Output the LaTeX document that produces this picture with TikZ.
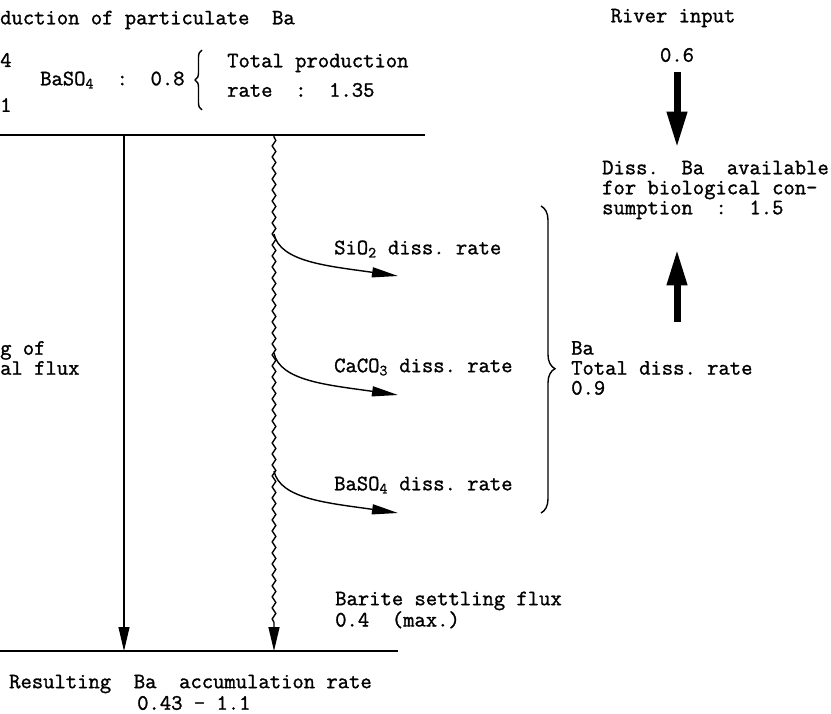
\documentclass[tikz,border=0pt]{standalone}
\usepackage{fontspec}
\setmainfont{Latin Modern Mono}[FakeBold=1.3]
\usetikzlibrary{arrows.meta,decorations.pathmorphing,decorations.pathreplacing}

\begin{document}
\begin{tikzpicture}[x=1pt,y=-1pt,
    lbl/.style={anchor=west,inner sep=0pt,align=left,
      font=\fontsize{22}{20}\selectfont},
    surface/.style={line width=1.8pt},
    fall/.style={line width=1.2pt,-{Triangle[length=24pt,width=11pt]}},
    wavy/.style={line width=1.4pt,-{Triangle[length=24pt,width=11pt]},
      decorate,decoration={snake,amplitude=1.8pt,segment length=11pt,
      pre length=2pt,post length=24pt}},
    dissarrow/.style={line width=1.4pt,-{Triangle[length=26pt,width=10pt]}},
    bigarrow/.style={line width=7pt,-{Triangle[length=36pt,width=19pt]}},
    bracket/.style={line width=1.4pt,decorate,decoration={brace,amplitude=#1}}]
  \useasboundingbox (0,0) rectangle (831,714);
  % production at the surface
  \node [lbl] (prod) at (0,20) {duction of particulate\ \ Ba};
  \node [lbl] (four) at (0,60) {4};
  \node [lbl] (one) at (0,105) {1};
  \node [lbl] (baso) at (40,80) {BaSO\textsubscript{4}\ \ :\ \ 0.8};
  \draw [bracket=7pt] (202,110) -- (202,50);
  \node [lbl] (total) at (227,63) {Total production};
  \node [lbl] (rate) at (227,90) {rate\ \ :\ \ 1.35};
  % surface and sea floor
  \coordinate (tl) at (0,135);
  \coordinate (tr) at (425,135);
  \coordinate (bl) at (0,651);
  \coordinate (br) at (398,651);
  \draw [surface] (tl) -- (tr);
  \draw [surface] (bl) -- (br);
  % settling fluxes
  \coordinate (stop) at (124,135);
  \coordinate (sbot) at (124,651);
  \coordinate (wtop) at (274,135);
  \coordinate (wbot) at (274,651);
  \draw [fall] (stop) -- (sbot);
  \draw [wavy] (wtop) -- (wbot);
  \node [lbl] (settle) at (0,358) {g of\\al flux};
  % dissolution along the way
  \coordinate (w1) at (274,234);
  \coordinate (w2) at (274,353);
  \coordinate (w3) at (274,471);
  \coordinate (e1) at (398,276);
  \coordinate (e2) at (398,395);
  \coordinate (e3) at (398,513);
  \draw [dissarrow] (w1) .. controls +(6,28) and +(-70,-10) .. (e1);
  \draw [dissarrow] (w2) .. controls +(6,28) and +(-70,-10) .. (e2);
  \draw [dissarrow] (w3) .. controls +(6,28) and +(-70,-10) .. (e3);
  \node [lbl] (sio) at (334,249) {SiO\textsubscript{2} diss.\ rate};
  \node [lbl] (caco) at (334,367) {CaCO\textsubscript{3} diss.\ rate};
  \node [lbl] (bas) at (334,485) {BaSO\textsubscript{4} diss.\ rate};
  \draw [bracket=14pt,decoration={aspect=0.53}] (541,206) -- (541,513);
  \node [lbl] (badiss) at (571,368) {Ba\\Total diss.\ rate\\0.9};
  % dissolved pool
  \node [lbl,anchor=center] (river) at (673,18) {River input};
  \node [lbl,anchor=center] (rv) at (677,55) {0.6};
  \node [lbl] (diss) at (602,190)
    {Diss.\ \ Ba\ \ available\\for biological con-\\sumption\ \ :\ \ 1.5};
  \coordinate (upfoot) at (677,322);
  \draw [bigarrow,shorten <=10pt,shorten >=13pt] (rv.south) -- (rv |- diss.north);
  \draw [bigarrow,shorten >=30pt] (upfoot) -- (upfoot |- diss.south);
  \node [lbl] (barite) at (335,610) {Barite settling flux\\0.4\ \ (max.)};
  \node [lbl] (result) at (9,684) {Resulting\ \ Ba\ \ accumulation rate};
  \node [lbl] (range) at (137,703) {0.43 - 1.1};
\end{tikzpicture}
\end{document}
